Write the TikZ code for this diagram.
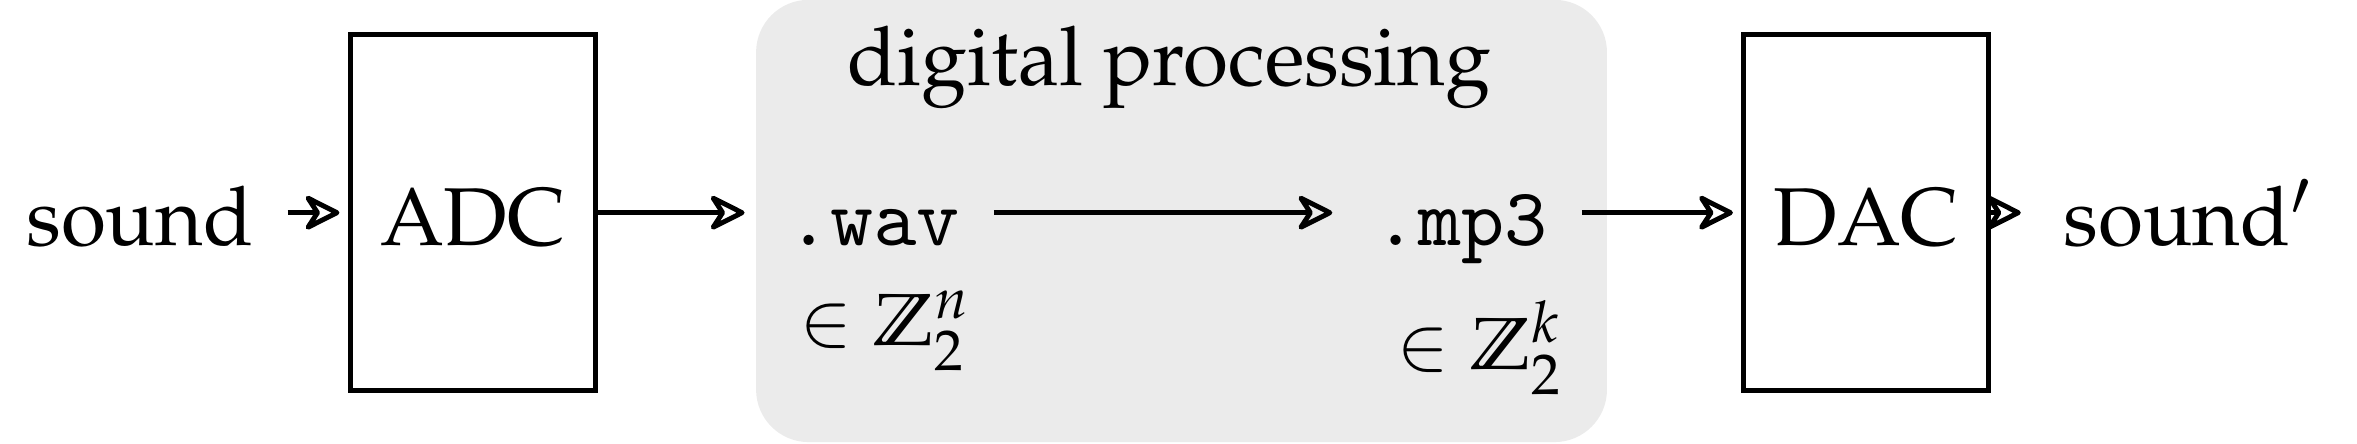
\documentclass[tikz,border=0pt]{standalone}
\usepackage[OT1]{fontenc}
\usepackage{mathpazo}
\usepackage{amsmath, amsfonts, amssymb}
\renewcommand{\ttdefault}{cmtt}
\usepackage{tikz}
\usetikzlibrary{arrows.meta}

\begin{document}
\begin{tikzpicture}[x=1.832pt, y=1.832pt,
    lbl/.style={inner xsep=4pt, inner ysep=0pt, text height=8pt, text depth=0pt},
    conv/.style={draw, semithick, minimum width=29.9pt, minimum height=43.4pt,
                 inner sep=0pt, text height=8pt, text depth=0pt},
    procbg/.style={fill=black!8, rounded corners=6.4pt, minimum width=103.7pt,
                   minimum height=53.9pt, inner sep=0pt},
    elem/.style={anchor=base, font=\small, inner sep=1pt},
    flow/.style={semithick, shorten >=1pt,
                 -{Stealth[open, round, length=5pt, width=5pt, inset=1.6pt]}}]
    \useasboundingbox (0,0) rectangle (156.8,-29.5);
    \node[procbg] (proc) at (78.6,-14.7) {};
    \node[anchor=base] (title) at (77.8,-5.7) {digital processing};
    \node[lbl] (src) at (9.3,-14.15) {sound};
    \node[conv] (adc) at (31.45,-14.15) {ADC};
    \node[lbl] (wav) at (58.1,-14.15) {\texttt{.wav}};
    \node[lbl] (mp3) at (97.2,-14.15) {\texttt{.mp3}};
    \node[conv] (dac) at (124.15,-14.15) {DAC};
    \node[lbl] (dst) at (145.6,-14.15) {sound$'$};
    \node[elem] (zn) at (58.95,-23.0) {$\in\mathbb{Z}_2^n$};
    \node[elem] (zk) at (98.5,-24.6) {$\in\mathbb{Z}_2^k$};
    \draw[flow] (src) -- (adc);
    \draw[flow] (adc) -- (wav);
    \draw[flow] (wav) -- (mp3);
    \draw[flow] (mp3) -- (dac);
    \draw[flow] (dac) -- (dst);
\end{tikzpicture}
\end{document}
